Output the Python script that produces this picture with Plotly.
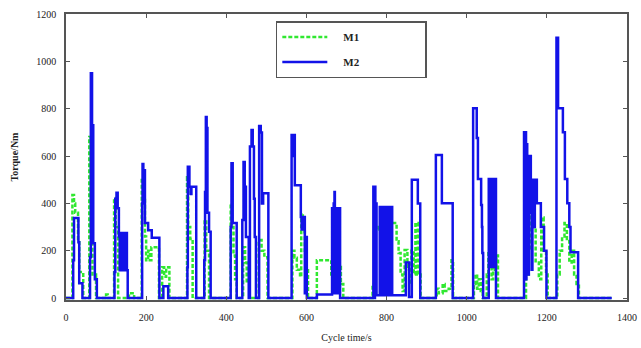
import plotly.graph_objects as go

# ---- data, step series: value holds until next time ----
m2_t = [0,
        18, 20, 31, 33, 41,
        60, 62, 65, 68, 72, 77,
        121, 123, 126, 129, 132,
        134, 135, 136, 137, 138, 139, 140, 141, 142, 143, 144, 145, 146, 147, 148, 149, 150, 151, 152, 154,
        190, 191, 193, 195, 197, 205, 214, 233,
        243, 255,
        303, 304, 308, 311, 313, 325,
        345, 347, 349, 351, 353, 357, 361,
        411, 413, 416, 426,
        440, 443, 446, 449, 456, 459, 463, 466, 469, 471, 474, 482, 486, 489, 492, 505,
        563, 565, 567, 571, 586, 588, 590, 592, 594, 596, 597, 601,
        626, 664, 665, 666, 667, 668, 669, 670, 671, 672, 673, 674, 675, 676, 677, 678, 679, 680, 681, 682, 684,
        767, 768, 769, 770, 771, 772, 773, 775,
        783, 784, 785, 786, 787, 788, 789, 790, 791, 792, 793, 794, 795, 796, 797, 798, 799, 800,
        801, 802, 803, 804, 805, 806, 807, 808, 809, 810, 811, 812, 813, 814,
        848, 856, 863, 878, 884,
        923, 938, 965,
        1016, 1025, 1028, 1036, 1038, 1039, 1041,
        1055, 1057, 1058, 1060, 1061, 1063, 1064, 1066, 1067, 1069, 1070, 1073,
        1143, 1145, 1146, 1148, 1149, 1151, 1153, 1155, 1157, 1160, 1162, 1164, 1168, 1170, 1175, 1185, 1193, 1199,
        1224, 1228, 1240, 1245, 1251, 1256, 1259, 1278,
        1362]
m2_v = [0,
        160, 338, 236, 63, 0,
        173, 950, 730, 232, 80, 0,
        110, 420, 445, 380, 260,
        118, 275, 118, 275, 118, 275, 118, 275, 118, 275, 118, 275, 118, 275, 118, 275, 118, 275, 118, 0,
        400, 566, 480, 540, 317, 287, 255, 0,
        50, 0,
        130, 555, 470, 440, 470, 0,
        160, 448, 765, 718, 360, 280, 0,
        300, 570, 317, 0,
        330, 575, 470, 258, 0, 640, 710, 640, 420, 258, 0, 727, 700, 400, 443, 0,
        689, 600, 689, 477, 343, 290, 343, 290, 343, 21, 258, 0,
        15, 380, 20, 380, 20, 400, 20, 448, 30, 380, 20, 380, 20, 380, 20, 380, 20, 380, 20, 380, 0,
        470, 0, 450, 0, 470, 100, 400, 12,
        385, 12, 385, 12, 385, 12, 385, 12, 385, 12, 385, 12, 385, 12, 385, 12, 385, 12,
        385, 12, 385, 12, 385, 12, 385, 12, 385, 12, 385, 12, 385, 12,
        150, 5, 500, 400, 0,
        604, 401, 0,
        802, 676, 503, 393, 300, 190, 0,
        503, 131, 503, 131, 503, 131, 503, 131, 503, 131, 503, 0,
        701, 100, 701, 80, 650, 360, 100, 360, 600, 360, 120, 500, 300, 500, 401, 300, 200, 0,
        1100, 802, 701, 503, 401, 300, 194, 0,
        0]

m1_t = [0, 16, 20, 23, 30, 33, 43,
        58, 62, 66, 75,
        100, 104,
        120, 124, 130,
        157, 170,
        189, 194, 197, 200, 205, 209, 213, 225, 232,
        240, 245, 250, 258,
        302, 305, 310, 316,
        346, 350, 357,
        411, 414, 418, 422, 426,
        442, 447, 451, 458, 481, 488, 495, 503,
        565, 570, 576, 584, 587, 591, 596, 600, 604,
        626, 662, 667, 679, 686, 692,
        765, 773, 780, 795, 810, 825, 830, 835, 840, 845, 852, 858, 862, 868, 872, 878, 885,
        925, 930, 940, 945, 955, 962, 966,
        1018, 1022, 1026, 1030, 1035, 1040,
        1050, 1054, 1058, 1062, 1066, 1070, 1074, 1078,
        1148, 1155, 1160, 1166, 1172, 1180, 1186, 1192, 1198, 1202,
        1226, 1232, 1238, 1244, 1250, 1256, 1262, 1268, 1274, 1280,
        1362]
m1_v = [0, 435, 400, 360, 250, 110, 0,
        680, 300, 100, 0,
        15, 0,
        423, 300, 0,
        20, 0,
        510, 420, 260, 160, 200, 160, 215, 215, 0,
        130, 90, 130, 0,
        510, 300, 250, 0,
        330, 200, 0,
        400, 300, 180, 80, 0,
        215, 150, 63, 0, 245, 200, 173, 0,
        200, 170, 120, 90, 359, 280, 200, 118, 0,
        160, 100, 50, 131, 60, 0,
        60, 290, 300, 280, 317, 240, 190, 100, 30, 203, 120, 60, 200, 100, 317, 100, 0,
        40, 20, 60, 30, 40, 160, 0,
        60, 100, 40, 80, 30, 0,
        100, 200, 150, 80, 211, 120, 180, 0,
        100, 200, 480, 300, 150, 80, 340, 200, 100, 0,
        100, 200, 260, 317, 250, 150, 200, 100, 60, 0,
        0]

x_ticks = [0, 200, 400, 600, 800, 1000, 1200, 1400]
y_ticks = [0, 200, 400, 600, 800, 1000, 1200]

BLUE = "#1212e8"
GREEN = "#30e830"
FONT = "Liberation Serif"
NB = "\u00a0"

fig = go.Figure()
fig.add_trace(go.Scatter(x=m1_t, y=m1_v, mode="lines", name=NB * 4 + "M1" + NB * 22, legendgroup="a",
                         line=dict(color=GREEN, width=2.5, dash="4px,2px", shape="hv")))
fig.add_trace(go.Scatter(x=m2_t, y=m2_v, mode="lines", name=NB * 4 + "M2" + NB * 22, legendgroup="b",
                         line=dict(color=BLUE, width=2.5, shape="hv")))

axis_common = dict(showgrid=False, zeroline=False, showline=True, linecolor="#555555", linewidth=1.5,
                   mirror="ticks", ticks="inside", ticklen=4, tickcolor="#555555", tickwidth=1.2,
                   automargin=False,
                   tickfont=dict(family=FONT, size=10, color="#222222"))

fig.update_layout(
    width=641, height=348,
    margin=dict(l=66, r=14, t=14, b=48),
    paper_bgcolor="white", plot_bgcolor="white",
    xaxis=dict(range=[0, 1400], tickvals=x_ticks, ticklabelstandoff=7,
               title=dict(text="Cycle time/s", font=dict(family=FONT, size=10, color="#222222"), standoff=12),
               **axis_common),
    yaxis=dict(range=[-8, 1200], tickvals=y_ticks, ticklabelstandoff=6,
               title=dict(text="Torque/Nm", font=dict(family=FONT, size=10, color="#222222", weight="bold"), standoff=16),
               **axis_common),
    legend=dict(x=0.374, y=0.9755, xanchor="left", yanchor="top", bgcolor="white",
                bordercolor="#555555", borderwidth=1.5, traceorder="grouped", tracegroupgap=6,
                itemwidth=45,
                font=dict(family=FONT, size=11, color="#222222", weight="bold")),
    showlegend=True,
)

fig.write_html("out.html")
